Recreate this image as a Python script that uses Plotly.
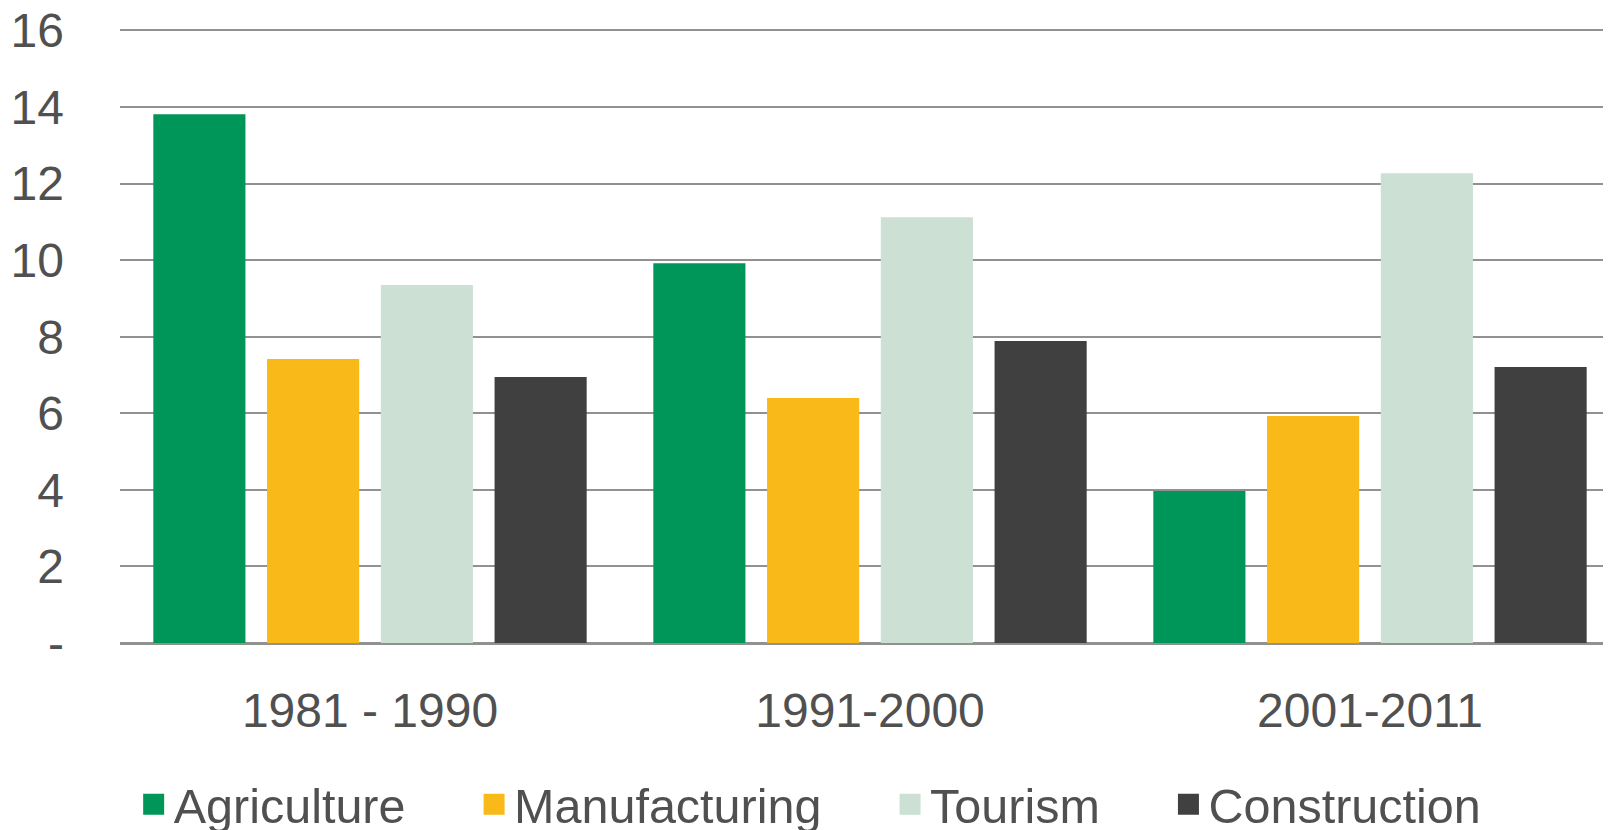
import plotly.graph_objects as go

periods = ["1981 - 1990", "1991-2000", "2001-2011"]
agriculture = [13.81, 9.92, 3.97]
manufacturing = [7.42, 6.40, 5.93]
tourism = [9.35, 11.12, 12.27]
construction = [6.95, 7.89, 7.21]

series_names = ["Agriculture", "Manufacturing", "Tourism", "Construction"]
series_values = [agriculture, manufacturing, tourism, construction]
series_colors = ["#00965A", "#F9B918", "#CCE0D4", "#404041"]

y_tickvals = [0, 2, 4, 6, 8, 10, 12, 14, 16]
y_ticktext = ["-", "2", "4", "6", "8", "10", "12", "14", "16"]

FONT = "Liberation Sans, Arial, sans-serif"
TEXT_COLOR = "#505050"
GRID_COLOR = "#919191"

fig = go.Figure()
for name, vals, col in zip(series_names, series_values, series_colors):
    fig.add_trace(go.Bar(x=periods, y=vals, name=name, marker=dict(color=col, line=dict(width=0)),
                         showlegend=False))
# legend entries with larger square symbols
pad = "\u00a0" * 4 + "\u2009"
for i, (name, col) in enumerate(zip(series_names, series_colors)):
    label = name + (pad if i < len(series_names) - 1 else "")
    fig.add_trace(go.Scatter(x=[None], y=[None], mode="markers", name=label,
                             marker=dict(symbol="square", size=16, color=col,
                                         line=dict(color=col, width=5)),
                             showlegend=True, hoverinfo="skip"))

fig.update_layout(
    width=1611, height=830,
    margin=dict(l=112, r=0, t=10.5, b=194.7, autoexpand=False),
    paper_bgcolor="white", plot_bgcolor="white",
    barmode="group", bargap=0.09, bargroupgap=0.19,
    font=dict(family=FONT, size=48, color=TEXT_COLOR),
    showlegend=True,
    legend=dict(orientation="h", xref="container", yref="container",
                x=0.078, xanchor="left", y=0.040, yanchor="middle",
                font=dict(family=FONT, size=48.5, color=TEXT_COLOR),
                bgcolor="rgba(0,0,0,0)", itemclick=False),
)
fig.update_xaxes(
    type="category", range=[-0.5, 2.498], showgrid=False, showline=False,
    ticks="", tickfont=dict(family=FONT, size=48, color=TEXT_COLOR),
    ticklabelstandoff=35, fixedrange=True, automargin=False,
)
fig.update_yaxes(
    range=[0, 16.3], tickvals=y_tickvals, ticktext=y_ticktext,
    showgrid=True, gridcolor=GRID_COLOR, gridwidth=1.6,
    zeroline=True, zerolinecolor=GRID_COLOR, zerolinewidth=3,
    showline=False, ticks="", tickfont=dict(family=FONT, size=48, color=TEXT_COLOR),
    ticklabelstandoff=55, ticklabeloverflow="allow", fixedrange=True, automargin=False,
)

fig.write_html("out.html")
